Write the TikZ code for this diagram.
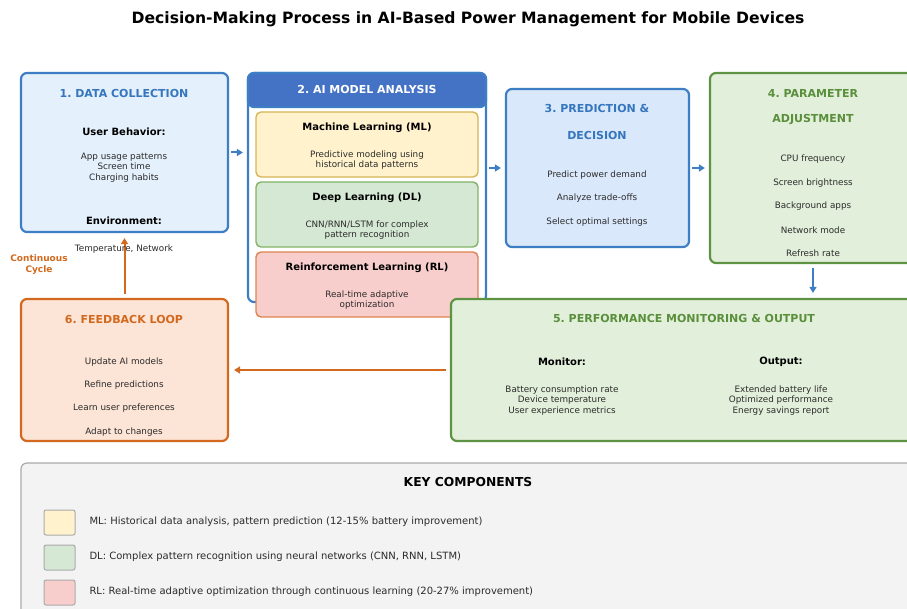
\documentclass[tikz,border=0pt]{standalone}
\usepackage{fontspec}
\setmainfont{DejaVu Sans}
\usetikzlibrary{arrows.meta}
\frenchspacing

\definecolor{blueline}{HTML}{3D7EC4}
\definecolor{bluetext}{HTML}{3576BD}
\definecolor{headblue}{HTML}{4472C4}
\definecolor{bluefillA}{HTML}{E4F0FB}
\definecolor{bluefillB}{HTML}{DAE8FC}
\definecolor{mlfill}{HTML}{FFF2CC}
\definecolor{mlline}{HTML}{D6B656}
\definecolor{dlfill}{HTML}{D5E8D4}
\definecolor{dlline}{HTML}{82B366}
\definecolor{rlfill}{HTML}{F8CECC}
\definecolor{rlline}{HTML}{DD8452}
\definecolor{greenline}{HTML}{5E9343}
\definecolor{greentext}{HTML}{5A8F3C}
\definecolor{greenfill}{HTML}{E2EFDA}
\definecolor{orangeline}{HTML}{D2691E}
\definecolor{orangefill}{HTML}{FCE4D6}
\definecolor{keyfill}{HTML}{F3F3F3}
\definecolor{keyline}{HTML}{AAAAAA}
\definecolor{bodygray}{HTML}{2B2B2B}

\begin{document}
\frenchspacing
\begin{tikzpicture}[x=1pt,y=-1pt,
  stage/.style={draw, rounded corners=6pt, line width=2.2pt, inner sep=0pt},
  inner/.style={draw, rounded corners=5pt, line width=1.4pt, inner sep=0pt,
    minimum width=222, minimum height=65},
  swatch/.style={draw=keyline, fill=#1, rounded corners=2pt, line width=1pt,
    minimum width=31, minimum height=25, inner sep=0pt},
  head/.style={font=\fontsize{11}{13}\selectfont\bfseries},
  sub/.style={font=\fontsize{10}{12}\selectfont\bfseries},
  body/.style={font=\fontsize{8.8}{10.5}\selectfont, text=bodygray, align=center},
  keytext/.style={font=\fontsize{10}{12}\selectfont, text=bodygray, anchor=west},
  flowb/.style={draw=blueline, line width=2pt, -{Triangle[length=6pt,width=7pt]},
    shorten <=2pt, shorten >=4pt},
  flowo/.style={draw=orangeline, line width=2pt, -{Triangle[length=6pt,width=7pt]},
    shorten <=4pt, shorten >=5pt}
]
  \clip (0,0) rectangle (907,609);
  \fill[white] (0,0) rectangle (907,609);

  \node[font=\fontsize{15.6}{18}\selectfont\bfseries] (title) at (468,19.5)
    {Decision-Making Process in AI-Based Power Management for Mobile Devices};

  \node[stage, draw=blueline, fill=bluefillA, minimum width=207, minimum height=159]
    (b1) at (124.5,152.5) {};
  \node[head, text=bluetext] (b1t) at (124,93) {1. DATA COLLECTION};
  \node[sub] (b1u) at (124,132) {User Behavior:};
  \node[body] (b1l) at (124,167.5) {App usage patterns\\Screen time\\Charging habits};
  \node[sub] (b1e) at (124,221) {Environment:};

  \node[stage, draw=blueline, fill=white, minimum width=238, minimum height=229]
    (b2) at (367,187.5) {};
  \node[stage, draw=blueline, fill=headblue, minimum width=238, minimum height=34]
    (b2h) at (367,90) {};
  \node[head, text=white] (b2t) at (367,89) {2. AI MODEL ANALYSIS};

  \node[inner, draw=mlline, fill=mlfill] (ml) at (367,144.5) {};
  \node[sub] (mlt) at (367,128) {Machine Learning (ML)};
  \node[body] (mll) at (367,160) {Predictive modeling using\\historical data patterns};

  \node[inner, draw=dlline, fill=dlfill] (dl) at (367,214.5) {};
  \node[sub] (dlt) at (367,198) {Deep Learning (DL)};
  \node[body] (dll) at (367,230) {CNN/RNN/LSTM for complex\\pattern recognition};

  \node[inner, draw=rlline, fill=rlfill] (rl) at (367,284.5) {};
  \node[sub] (rlt) at (367,268) {Reinforcement Learning (RL)};
  \node[body] (rll) at (367,300) {Real-time adaptive\\optimization};

  \node[stage, draw=blueline, fill=bluefillB, minimum width=183, minimum height=158]
    (b3) at (597.5,168) {};
  \node[head, text=bluetext] (b3t) at (597,108) {3. PREDICTION \&};
  \node[head, text=bluetext] (b3u) at (597,135) {DECISION};
  \node[body] (b3a) at (597,175) {Predict power demand};
  \node[body] (b3b) at (597,198) {Analyze trade-offs};
  \node[body] (b3c) at (597,222) {Select optimal settings};

  \node[stage, draw=greenline, fill=greenfill, minimum width=206, minimum height=190]
    (b4) at (813,168) {};
  \node[head, text=greentext] (b4t) at (813,93) {4. PARAMETER};
  \node[head, text=greentext] (b4u) at (813,120) {ADJUSTMENT};
  \node[body] (b4a) at (813,159) {CPU frequency};
  \node[body] (b4b) at (813,183) {Screen brightness};
  \node[body] (b4c) at (813,206) {Background apps};
  \node[body] (b4d) at (813,230) {Network mode};
  \node[body] (b4e) at (813,253) {Refresh rate};

  \node[stage, draw=greenline, fill=greenfill, minimum width=466, minimum height=142]
    (b5) at (684,370) {};
  \node[head, text=greentext] (b5t) at (684,318) {5. PERFORMANCE MONITORING \& OUTPUT};
  \node[sub] (b5m) at (562,362) {Monitor:};
  \node[sub] (b5o) at (781,362) {Output:};
  \node[body] (b5ml) at (562,400.5)
    {Battery consumption rate\\Device temperature\\User experience metrics};
  \node[body] (b5ol) at (781,400.5)
    {Extended battery life\\Optimized performance\\Energy savings report};

  \node[stage, draw=orangeline, fill=orangefill, minimum width=207, minimum height=142]
    (b6) at (124.5,370) {};
  \node[head, text=orangeline] (b6t) at (124,319) {6. FEEDBACK LOOP};
  \node[body] (b6a) at (124,362) {Update AI models};
  \node[body] (b6b) at (124,385) {Refine predictions};
  \node[body] (b6c) at (124,408) {Learn user preferences};
  \node[body] (b6d) at (124,432) {Adapt to changes};

  \draw[flowb] (b1.east) -- (b1.east -| b2.west);
  \draw[flowb] (b3.west -| b2.east) -- (b3.west);
  \draw[flowb] (b3.east) -- (b4.west);
  \draw[flowb, shorten <=4pt, shorten >=5pt] (b4.south) -- (b4.south |- b5.north);
  \draw[flowo] (b5.west) -- (b6.east);
  \draw[flowo] (b6.north) -- (b1.south);

  \node[body] (b1n) at (124,249) {Temperature, Network};
  \node[font=\fontsize{9}{10.5}\selectfont\bfseries, text=orangeline, align=center]
    (cyc) at (39,264.5) {Continuous\\Cycle};

  \node[draw=keyline, fill=keyfill, rounded corners=6pt, line width=1.2pt,
    minimum width=894, minimum height=170, inner sep=0pt] (key) at (468,548) {};
  \node[font=\fontsize{12.3}{14}\selectfont\bfseries] (keyt) at (468,482) {KEY COMPONENTS};
  \node[swatch=mlfill] (kml) at (59.5,522.5) {};
  \node[swatch=dlfill] (kdl) at (59.5,557.5) {};
  \node[swatch=rlfill] (krl) at (59.5,592.5) {};
  \node[keytext] (kmlt) at (86,521.5)
    {ML: Historical data analysis, pattern prediction (12-15\% battery improvement)};
  \node[keytext] (kdlt) at (86,556.5)
    {DL: Complex pattern recognition using neural networks (CNN, RNN, LSTM)};
  \node[keytext] (krlt) at (86,591.5)
    {RL: Real-time adaptive optimization through continuous learning (20-27\% improvement)};
\end{tikzpicture}
\end{document}
